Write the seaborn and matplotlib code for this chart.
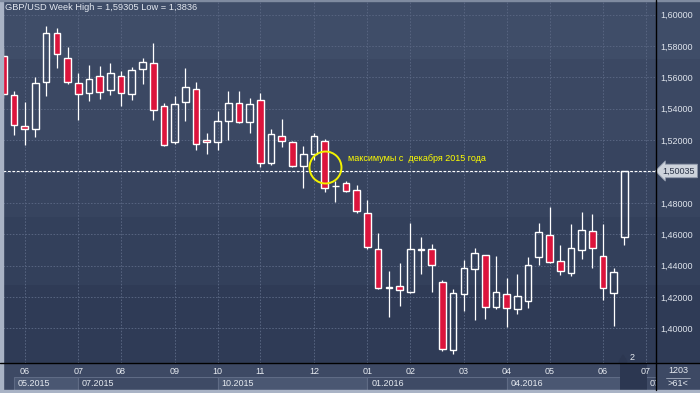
import matplotlib.pyplot as plt
import numpy as np
import pandas as pd
import seaborn as sns
from matplotlib.colors import to_rgb
from matplotlib.patches import Polygon, Rectangle

# weekly GBP/USD candles (first bar = mid May 2015)
opens = [1.5737, 1.5486, 1.5288, 1.5269, 1.5569, 1.5881, 1.5722, 1.5562, 1.5499, 1.5607,
         1.5517, 1.5607, 1.5492, 1.5652, 1.5690, 1.5416, 1.5186, 1.5441, 1.5524, 1.5199,
         1.5186, 1.5320, 1.5435, 1.5314, 1.5454, 1.5052, 1.5224, 1.5186, 1.5033, 1.5110,
         1.5193, 1.4905, 1.4925, 1.4880, 1.4733, 1.4504, 1.4258, 1.4268, 1.4233, 1.4502,
         1.4504, 1.4293, 1.3860, 1.4217, 1.4376, 1.4465, 1.4134, 1.4217, 1.4121, 1.4172,
         1.4453, 1.4593, 1.4427, 1.4351, 1.4497, 1.4619, 1.4459, 1.4223, 1.4580]
highs = [1.5788, 1.5513, 1.5443, 1.5603, 1.5931, 1.5915, 1.5794, 1.5628, 1.5679, 1.5673,
         1.5692, 1.5639, 1.5665, 1.5722, 1.5818, 1.5435, 1.5480, 1.5658, 1.5569, 1.5244,
         1.5384, 1.5511, 1.5511, 1.5467, 1.5499, 1.5269, 1.5333, 1.5193, 1.5161, 1.5244,
         1.5205, 1.4941, 1.4937, 1.4912, 1.4816, 1.4606, 1.4363, 1.4414, 1.4670, 1.4580,
         1.4536, 1.4306, 1.4249, 1.4434, 1.4510, 1.4468, 1.4459, 1.4319, 1.4344, 1.4453,
         1.4670, 1.4772, 1.4529, 1.4663, 1.4740, 1.4727, 1.4663, 1.4383, 1.50035]
lows = [1.5469, 1.5233, 1.5169, 1.5222, 1.5481, 1.5662, 1.5558, 1.5330, 1.5451, 1.5462,
        1.5491, 1.5420, 1.5458, 1.5560, 1.5330, 1.5160, 1.5173, 1.5324, 1.5135, 1.5110,
        1.5135, 1.5199, 1.5307, 1.5244, 1.5027, 1.5039, 1.5154, 1.5027, 1.4893, 1.5073,
        1.4867, 1.4803, 1.4871, 1.4733, 1.4504, 1.4249, 1.4074, 1.4144, 1.4227, 1.4348,
        1.4233, 1.3853, 1.3836, 1.4112, 1.4051, 1.4057, 1.4121, 1.4006, 1.4089, 1.4127,
        1.4402, 1.4414, 1.4338, 1.4332, 1.4440, 1.4383, 1.4178, 1.4013, 1.4529]
closes = [1.5494, 1.5295, 1.5269, 1.5562, 1.5881, 1.5747, 1.5569, 1.5492, 1.5588, 1.5505,
          1.5626, 1.5499, 1.5645, 1.5696, 1.5390, 1.5167, 1.5429, 1.5537, 1.5173, 1.5186,
          1.5320, 1.5435, 1.5314, 1.5429, 1.5052, 1.5237, 1.5193, 1.5033, 1.5110, 1.5224,
          1.4893, 1.4909, 1.4877, 1.4746, 1.4516, 1.4255, 1.4261, 1.4242, 1.4504, 1.4504,
          1.4402, 1.3866, 1.4223, 1.4383, 1.4478, 1.4134, 1.4229, 1.4127, 1.4204, 1.4402,
          1.4612, 1.4421, 1.4363, 1.4510, 1.4625, 1.4510, 1.4255, 1.4357, 1.50035]

# bar index where each month starts, and the month numbers shown
month_pos = [2, 7, 11, 16, 20, 24, 29, 34, 38, 43, 47, 51, 56, 60]
month_labels = ["06", "07", "08", "09", "10", "11", "12", "01", "02", "03", "04", "05", "06", "07"]
# last period label is cut off by the price scale in the original
period_labels = ["05.2015", "07.2015", "10.2015", "01.2016", "04.2016", "07"]
period_start = [1, 7, 20, 34, 47, 60]
price_ticks = [1.40, 1.42, 1.44, 1.46, 1.48, 1.50, 1.52, 1.54, 1.56, 1.58, 1.60]

title = "GBP/USD Week High = 1,59305 Low = 1,3836"
note = "максимумы с  декабря 2015 года"
note_idx, note_level = 30, 1.5031

df = pd.DataFrame({"open": opens, "high": highs, "low": lows, "close": closes})
df["x"] = np.arange(len(df))
df["top"] = df[["open", "close"]].max(axis=1)
df["bot"] = df[["open", "close"]].min(axis=1)
df["up"] = df["close"] >= df["open"]

sns.set_style("dark", {"axes.facecolor": "none", "figure.facecolor": "#2f3b56"})
plt.rcParams["font.family"] = ["Liberation Sans", "DejaVu Sans"]

W, H = 700, 393
AX_L, AX_R, AX_T, AX_B = 3.3, 655.7, 2.0, 363.3
TXT = "#e6eaf0"
GRID = "#56637f"
RED = "#dc143c"

fig = plt.figure(figsize=(W / 100, H / 100), dpi=100)

# background panel (pixel coords)
bg = fig.add_axes([0, 0, 1, 1], zorder=0)
band_edges = [0, 59, 140, 217, 285, 364]
band_colors = ["#3f4d68", "#3b4863", "#37445f", "#33405b", "#2f3b56"]
grad = np.zeros((364, 1, 3))
for a, b, c in zip(band_edges[:-1], band_edges[1:], band_colors):
    grad[a:b] = to_rgb(c)
bg.imshow(grad, extent=[0, W, 364, 0], aspect="auto", interpolation="nearest")
bg.add_patch(Rectangle((0, AX_B), W, H - AX_B, color="#3d4964"))
bg.set_xlim(0, W)
bg.set_ylim(H, 0)
bg.axis("off")

# period strip under the month labels
strip = fig.add_axes([AX_L / W, (H - 390) / H, (AX_R - AX_L) / W, 13.5 / H], zorder=1)
xmax = (AX_R - AX_L) / 10.71
ends = period_start[1:] + [xmax + 1]
for i, (lab, s, e) in enumerate(zip(period_labels, period_start, ends)):
    strip.add_patch(Rectangle((s, 0), e - s, 1, fc="#4a5772" if i % 2 == 0 else "#3e4a65",
                              ec="#5f6b85", lw=0.8))
    strip.text(s + 0.35, 0.5, lab, ha="left", va="center", fontsize=6.5, color=TXT, clip_on=True)
strip.add_patch(Rectangle((57.6, 0), 2.5, 2.0, fc="#2c3751", ec="none", clip_on=False))
strip.set_xlim(0, xmax)
strip.set_ylim(0, 1)
strip.axis("off")

# main candle chart
ax = fig.add_axes([AX_L / W, (H - AX_B) / H, (AX_R - AX_L) / W, (AX_B - AX_T) / H], zorder=2)
ax.set_facecolor("none")
ax.vlines(df["x"], df["top"], df["high"], color="white", lw=0.9, zorder=3)
ax.vlines(df["x"], df["low"], df["bot"], color="white", lw=0.9, zorder=3)
ax.bar(df["x"], df["top"] - df["bot"], bottom=df["bot"], width=0.62,
       color=np.where(df["up"], "none", RED), edgecolor="white", linewidth=1.0, zorder=4)

last = closes[-1]
ax.axhline(last, color="white", lw=0.8, dashes=(2.5, 1.5), zorder=2)
ax.annotate(f"{last:.5f}".replace(".", ","), xy=(1, last), xycoords=("axes fraction", "data"),
            xytext=(5, 0), textcoords="offset points", ha="left", va="center",
            fontsize=6.5, color="#2a3347", annotation_clip=False,
            bbox=dict(boxstyle="larrow,pad=0.25", fc="#cdd3dc", ec="#8e98aa", lw=0.6))

ax.plot([note_idx], [note_level], "o", ms=23, mfc="none", mec="#f2f200", mew=1.4, zorder=5)
ax.text(note_idx + 2.2, note_level + 0.0055, note, color="#ffff00", fontsize=6.5,
        va="center", ha="left", zorder=5)

ax.set_xlim(0, xmax)
ax.set_ylim(1.3777, 1.6081)
ax.set_xticks(month_pos)
ax.set_xticklabels(month_labels)
ax.yaxis.tick_right()
ax.set_yticks(price_ticks)
# the 1,50000 label sits under the last-price tag, so it is left blank
ax.set_yticklabels(["" if abs(v - last) < 0.005 else f"{v:.5f}".replace(".", ",")
                    for v in price_ticks])
ax.tick_params(axis="x", length=0, pad=2.8, labelsize=6.5, labelcolor=TXT)
ax.tick_params(axis="y", length=0, pad=3.2, labelsize=6.5, labelcolor="#dfe4ec")
ax.set_axisbelow(True)
ax.grid(True, color=GRID, linestyle=(0, (1.5, 1.5)), lw=0.75)
sns.despine(ax=ax, left=True, bottom=True, right=True, top=True)

# frame lines, title and corner counters
fg = fig.add_axes([0, 0, 1, 1], zorder=3)
fg.set_facecolor("none")
fg.plot([0, W], [AX_B, AX_B], color="black", lw=1.0)
fg.plot([AX_R, AX_R], [0, 390], color="black", lw=1.0)
fg.add_patch(Rectangle((0, 0), 3, H, color="#a9b3c5"))
fg.add_patch(Rectangle((0, 390), W, 3, color="#a9b3c5"))
fg.add_patch(Rectangle((0, 0), W, 1, color="#7f8ba0"))
fg.add_patch(Polygon([[619, 362], [627, 362], [623, 355]], color="#2c3751"))
fg.text(632, 358, "2", color=TXT, fontsize=6.5, ha="center", va="center")
fg.text(5, 8, title, color="#e3e8f0", fontsize=6.7, ha="left", va="center")
fg.text(678, 370.5, "1203", color=TXT, fontsize=6.5, ha="center", va="center")
fg.plot([666, 690], [377.5, 377.5], color="#a8b1c2", lw=0.6)
fg.text(678, 383.5, ">61<", color=TXT, fontsize=6.5, ha="center", va="center")
fg.set_xlim(0, W)
fg.set_ylim(H, 0)
fg.axis("off")

fig.savefig("out.png", dpi=100)
